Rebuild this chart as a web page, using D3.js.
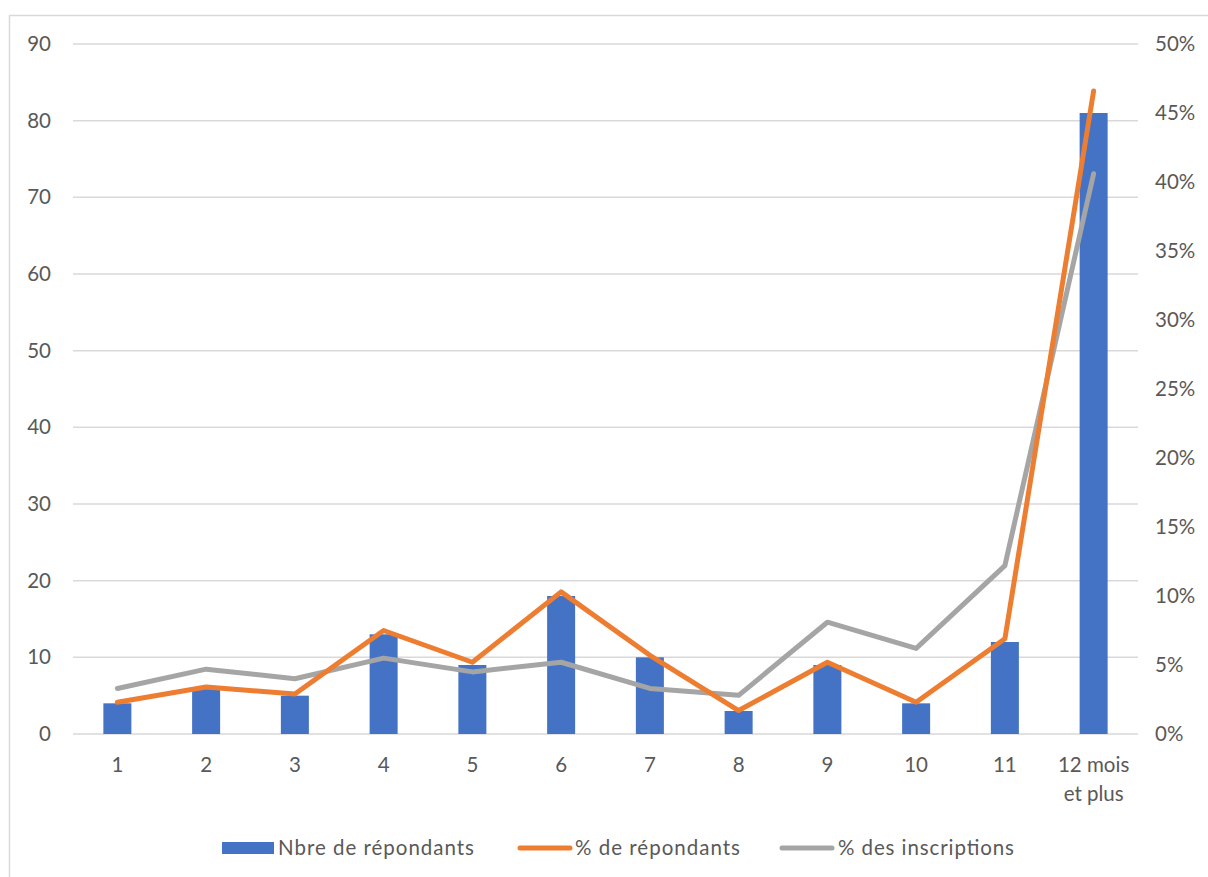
<!DOCTYPE html>
<html>
<head>
<meta charset="utf-8">
<script src="https://cdn.jsdelivr.net/npm/d3@7/dist/d3.min.js"></script>
<style>
  html, body { margin: 0; padding: 0; background: #fff; }
  svg { display: block; }
  text { font-family: Lato, "Open Sans", sans-serif; fill: #595959; }
</style>
</head>
<body>
<svg id="chart" width="1208" height="877"></svg>
<script>
const categories = ["1","2","3","4","5","6","7","8","9","10","11","12 mois et plus"];
const nbreRepondants = [4, 6, 5, 13, 9, 18, 10, 3, 9, 4, 12, 81];
const pctRepondants = [2.3, 3.4, 2.9, 7.5, 5.2, 10.3, 5.7, 1.7, 5.2, 2.3, 6.9, 46.6];
const pctInscriptions = [3.3, 4.7, 4.0, 5.5, 4.5, 5.2, 3.3, 2.8, 8.1, 6.2, 12.2, 40.6];
const leftTicks = [0,10,20,30,40,50,60,70,80,90];
const rightTicks = [0,5,10,15,20,25,30,35,40,45,50];
const legendLabels = ["Nbre de répondants", "% de répondants", "% des inscriptions"];

const colors = { bar: "#4472C4", orange: "#ED7D31", gray: "#A5A5A5", grid: "#D9D9D9", text: "#595959" };
const FS = 20.5;

const svg = d3.select("#chart");
const m = { left: 73, right: 1138, top: 44, bottom: 734 };

// chart border
svg.append("rect").attr("x", 9.5).attr("y", 15.5).attr("width", 1230).attr("height", 900)
  .attr("fill", "none").attr("stroke", colors.grid).attr("stroke-width", 1.5);

const x = d3.scaleBand().domain(categories).range([m.left, m.right]).paddingInner(0).paddingOuter(0);
const yL = d3.scaleLinear().domain([0, 90]).range([m.bottom, m.top]);
const yR = d3.scaleLinear().domain([0, 50]).range([m.bottom, m.top]);

// gridlines
svg.append("g").selectAll("line").data(leftTicks).join("line")
  .attr("x1", m.left).attr("x2", m.right)
  .attr("y1", d => yL(d)).attr("y2", d => yL(d))
  .attr("stroke", colors.grid).attr("stroke-width", 1.5);

function styleText(g) {
  g.selectAll("text").attr("font-size", FS).style("font-family", "Lato, sans-serif").attr("fill", colors.text);
}

// left axis
const gL = svg.append("g").attr("transform", `translate(${m.left},0)`)
  .call(d3.axisLeft(yL).tickValues(leftTicks).tickSize(0).tickPadding(22).tickFormat(d3.format("d")));
gL.select(".domain").remove();
styleText(gL);

// right axis
const gR = svg.append("g").attr("transform", `translate(${m.right},0)`)
  .call(d3.axisRight(yR).tickValues(rightTicks).tickSize(0).tickPadding(17).tickFormat(d => d + "%"));
gR.select(".domain").remove();
styleText(gR);

// bottom axis
const gB = svg.append("g").attr("transform", `translate(0,${m.bottom})`)
  .call(d3.axisBottom(x).tickSize(0).tickPadding(23));
gB.select(".domain").remove();
styleText(gB);
gB.selectAll("text").each(function(d) {
  if (d === "12 mois et plus") {
    const t = d3.select(this);
    t.text(null);
    t.append("tspan").attr("x", 0).attr("dy", "0.71em").text("12 mois");
    t.append("tspan").attr("x", 0).attr("dy", "1.45em").text("et plus");
    t.attr("dy", null);
  }
});

// bars
const barW = 28;
svg.append("g").selectAll("rect").data(categories).join("rect")
  .attr("x", (d) => x(d) + x.bandwidth() / 2 - barW / 2)
  .attr("width", barW)
  .attr("y", (d, i) => yL(nbreRepondants[i]))
  .attr("height", (d, i) => yL(0) - yL(nbreRepondants[i]))
  .attr("fill", colors.bar);

// lines
const line = d3.line().x(d => x(d[0]) + x.bandwidth() / 2).y(d => yR(d[1]));
svg.append("path").datum(categories.map((c, i) => [c, pctInscriptions[i]]))
  .attr("d", line).attr("fill", "none").attr("stroke", colors.gray)
  .attr("stroke-width", 5).attr("stroke-linecap", "round").attr("stroke-linejoin", "round");
svg.append("path").datum(categories.map((c, i) => [c, pctRepondants[i]]))
  .attr("d", line).attr("fill", "none").attr("stroke", colors.orange)
  .attr("stroke-width", 5).attr("stroke-linecap", "round").attr("stroke-linejoin", "round");

// legend
const lg = svg.append("g");
const ly = 848;
const legText = (xx, s, len) => lg.append("text").attr("x", xx).attr("y", ly).attr("dy", "0.35em")
  .attr("font-size", FS).attr("textLength", len).attr("lengthAdjust", "spacing").text(s);
lg.append("rect").attr("x", 222).attr("y", ly - 6).attr("width", 52).attr("height", 12).attr("fill", colors.bar);
legText(278, legendLabels[0], 196);
lg.append("line").attr("x1", 520).attr("x2", 570).attr("y1", ly).attr("y2", ly)
  .attr("stroke", colors.orange).attr("stroke-width", 5).attr("stroke-linecap", "round");
legText(575, legendLabels[1], 165);
lg.append("line").attr("x1", 782).attr("x2", 832).attr("y1", ly).attr("y2", ly)
  .attr("stroke", colors.gray).attr("stroke-width", 5).attr("stroke-linecap", "round");
legText(838, legendLabels[2], 176);
</script>
</body>
</html>
